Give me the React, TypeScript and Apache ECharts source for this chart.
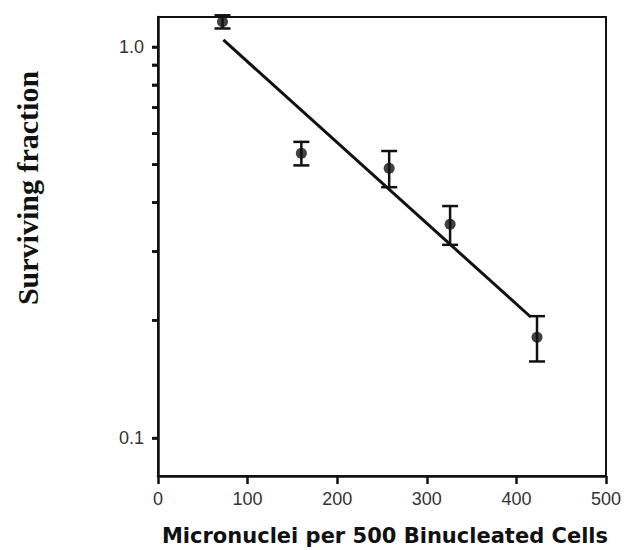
import React, { useEffect, useRef } from "react";
import * as echarts from "echarts";

// Data
const micronuclei = [72, 160, 258, 326, 423];
const survivingFraction = [1.16, 0.535, 0.49, 0.352, 0.181];
const errorSEM = [0.045, 0.037, 0.052, 0.04, 0.024];
const fitX = [73, 416];
const fitY = [1.042, 0.204];
const yTickValues = [0.1, 0.2, 0.3, 0.4, 0.5, 0.6, 0.7, 0.8, 0.9, 1.0];
const yLabelValues = [0.1, 1.0];
const xTitle = "Micronuclei per 500 Binucleated Cells";
const yTitle = "Surviving fraction";

export default function App() {
  const ref = useRef<HTMLDivElement>(null);
  useEffect(() => {
    if (!ref.current) return;
    const chart = echarts.init(ref.current, null, { renderer: "svg" });
    const points = micronuclei.map((x, i) => [x, survivingFraction[i]]);
    const errData = micronuclei.map((x, i) => [x, survivingFraction[i], errorSEM[i]]);
    const fitData = fitX.map((x, i) => [x, fitY[i]]);
    const tickData = yTickValues.map((v) => [0, v]);
    chart.setOption({
      animation: false,
      backgroundColor: "#ffffff",
      grid: { left: 158, right: 30, top: 17, bottom: 74, show: true, borderColor: "#111", borderWidth: 2 },
      xAxis: {
        type: "value",
        min: 0,
        max: 500,
        interval: 100,
        splitLine: { show: false },
        axisLine: { show: true, lineStyle: { color: "#111", width: 2.5 } },
        axisTick: { show: true, length: 8, lineStyle: { color: "#111", width: 2.5 } },
        axisLabel: { color: "#333", fontSize: 18, fontFamily: "Liberation Sans, Arial, sans-serif", margin: 14 },
      },
      yAxis: {
        type: "log",
        logBase: 10,
        min: 0.08,
        max: 1.193,
        splitLine: { show: false },
        axisLine: { show: true, lineStyle: { color: "#111", width: 2.5 } },
        axisTick: { show: true, length: 6, customValues: yTickValues, lineStyle: { color: "#111", width: 2.5 } },
        axisLabel: {
          color: "#333",
          fontSize: 18,
          fontFamily: "Liberation Sans, Arial, sans-serif",
          margin: 14,
          customValues: yLabelValues,
          formatter: (v: number) => Number(v).toFixed(1),
        },
      },
      series: [
        {
          type: "line",
          data: fitData,
          showSymbol: false,
          symbol: "none",
          lineStyle: { color: "#111", width: 3 },
          z: 2,
        },
        {
          type: "custom",
          data: tickData,
          clip: false,
          silent: true,
          z: 5,
          renderItem: (params: any, api: any) => {
            const p = api.coord([api.value(0), api.value(1)]);
            return {
              type: "line",
              shape: { x1: p[0] - 6, y1: p[1], x2: p[0], y2: p[1] },
              style: { stroke: "#111", lineWidth: 2.5 },
            };
          },
        },
        {
          type: "custom",
          data: errData,
          clip: false,
          z: 3,
          renderItem: (params: any, api: any) => {
            const x = api.value(0);
            const y = api.value(1);
            const e = api.value(2);
            const top = api.coord([x, y + e]);
            const bot = api.coord([x, y - e]);
            const hw = 8;
            const style = { stroke: "#111", lineWidth: 2.5 };
            return {
              type: "group",
              children: [
                { type: "line", shape: { x1: top[0], y1: top[1], x2: bot[0], y2: bot[1] }, style },
                { type: "line", shape: { x1: top[0] - hw, y1: top[1], x2: top[0] + hw, y2: top[1] }, style },
                { type: "line", shape: { x1: bot[0] - hw, y1: bot[1], x2: bot[0] + hw, y2: bot[1] }, style },
              ],
            };
          },
        },
        {
          type: "scatter",
          data: points,
          symbol: "circle",
          symbolSize: 11,
          itemStyle: { color: "#111" },
          z: 4,
        },
      ],
      graphic: [
        {
          type: "text",
          x: 385,
          y: 536,
          style: {
            text: xTitle,
            fill: "#111",
            fontSize: 21,
            fontWeight: "bold",
            fontFamily: "DejaVu Sans, Liberation Sans, Arial, sans-serif",
            align: "center",
            verticalAlign: "middle",
          },
        },
        {
          type: "text",
          x: 27,
          y: 188,
          rotation: Math.PI / 2,
          style: {
            text: yTitle,
            fill: "#111",
            fontSize: 30,
            fontWeight: "bold",
            fontFamily: "Liberation Serif, Times New Roman, serif",
            align: "center",
            verticalAlign: "middle",
          },
        },
      ],
    });
    return () => chart.dispose();
  }, []);
  return <div ref={ref} style={{ position: "absolute", left: 0, top: 0, width: 636, height: 550 }} />;
}
